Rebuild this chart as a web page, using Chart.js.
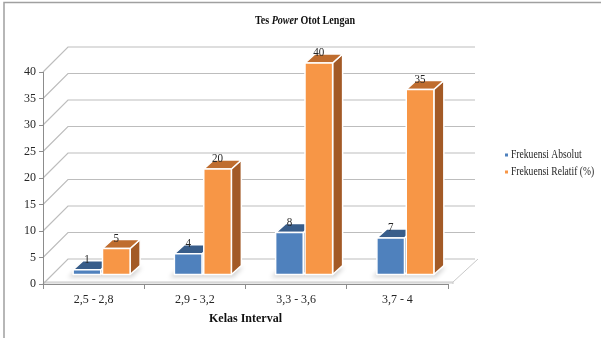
<!DOCTYPE html>
<html>
<head>
<meta charset="utf-8">
<script src="https://cdn.jsdelivr.net/npm/chart.js@4/dist/chart.umd.min.js"></script>
<style>
  html, body { margin: 0; padding: 0; background: #fff; }
  #c { display: block; }
</style>
</head>
<body>
<canvas id="c" width="601" height="338"></canvas>
<script>
// Frequency table: class intervals and the two series
const categories = ['2,5 - 2,8', '2,9 - 3,2', '3,3 - 3,6', '3,7 - 4'];
const frekuensiAbsolut = [1, 4, 8, 7];
const frekuensiRelatif = [5, 20, 40, 35];
const seriesNames = ['Frekuensi Absolut', 'Frekuensi Relatif (%)'];
const yMin = 0, yMax = 40, yStep = 5;

const SERIF = '"Liberation Serif", "Times New Roman", serif';
const TEXT = '#262626';
const AXIS = '#8c8c8c';
const GRID = '#bdbdbd';

// 3D offsets: back wall, bar plane, bar depth
const WALL = { dx: 25, dy: -25 };
const BAR = { dx: 8, dy: -9 };
const DEPTH = { dx: 10, dy: -9 };

const faces = [
  { front: '#4F81BD', top: '#385D8A', side: '#2C4D75' },
  { front: '#F79646', top: '#BF6D2F', side: '#A35A26' }
];

function poly(ctx, pts, fill, stroke) {
  ctx.beginPath();
  ctx.moveTo(pts[0][0], pts[0][1]);
  for (let i = 1; i < pts.length; i++) ctx.lineTo(pts[i][0], pts[i][1]);
  ctx.closePath();
  if (fill) { ctx.fillStyle = fill; ctx.fill(); }
  if (stroke) { ctx.strokeStyle = stroke; ctx.stroke(); }
}

function drawBox(ctx, l, r, t, b, c) {
  const dx = DEPTH.dx, dy = DEPTH.dy;
  ctx.lineWidth = 1.5;
  ctx.lineJoin = 'round';
  poly(ctx, [[r, t], [r + dx, t + dy], [r + dx, b + dy], [r, b]], c.side, '#fff');
  poly(ctx, [[l, t], [l + dx, t + dy], [r + dx, t + dy], [r, t]], c.top, '#fff');
  poly(ctx, [[l, t], [r, t], [r, b], [l, b]], c.front, '#fff');
}

// text drawn with a narrow horizontal scale
function narrowText(ctx, txt, x, y, sx) {
  ctx.save();
  ctx.translate(x, y);
  ctx.scale(sx, 1);
  ctx.fillText(txt, 0, 0);
  ctx.restore();
}

const scene3d = {
  id: 'scene3d',
  beforeDraw(chart) {
    const ctx = chart.ctx, a = chart.chartArea, ys = chart.scales.y;
    ctx.save();
    // frame
    ctx.strokeStyle = '#a0a0a0';
    ctx.lineWidth = 1.5;
    ctx.beginPath();
    ctx.moveTo(4, 338); ctx.lineTo(4, 2.5); ctx.lineTo(601, 2.5);
    ctx.stroke();

    // floor slab
    const fb = a.bottom - 2, fr = a.right + 5;
    poly(ctx, [[a.left, fb], [fr, fb], [fr + WALL.dx, fb + WALL.dy + 2], [a.left + WALL.dx, fb + WALL.dy + 2]], '#fff', null);
    ctx.lineWidth = 1;
    poly(ctx, [[a.left, a.bottom], [fr, a.bottom], [fr, fb], [a.left, fb]], '#e6e6e6', null);
    ctx.strokeStyle = '#c8c8c8';
    ctx.beginPath();
    ctx.moveTo(a.left, fb); ctx.lineTo(fr, fb);
    ctx.lineTo(fr + WALL.dx, fb + WALL.dy + 2);
    ctx.moveTo(fr, a.bottom); ctx.lineTo(fr, fb);
    ctx.stroke();

    // back wall gridlines and left wall diagonals
    ctx.strokeStyle = GRID;
    ctx.lineWidth = 1.2;
    ys.ticks.forEach(t => {
      const py = ys.getPixelForValue(t.value);
      ctx.beginPath();
      ctx.moveTo(a.left, py);
      ctx.lineTo(a.left + WALL.dx, py + WALL.dy);
      ctx.lineTo(a.right + WALL.dx + 2, py + WALL.dy);
      ctx.stroke();
    });
    ctx.restore();
  },
  beforeDatasetsDraw(chart) {
    const ctx = chart.ctx;
    const metas = chart.data.datasets.map((d, i) => chart.getDatasetMeta(i));
    ctx.save();
    // soft contact shadows on the floor
    ctx.filter = 'blur(2px)';
    ctx.fillStyle = 'rgba(0,0,0,0.16)';
    categories.forEach((c, i) => {
      const e0 = metas[0].data[i], e1 = metas[1].data[i];
      const l = e0.x - e0.width / 2 + BAR.dx - 5;
      const r = e1.x + e1.width / 2 + BAR.dx + DEPTH.dx + 2;
      const b = e0.base + BAR.dy + 3;
      poly(ctx, [[l, b], [r - DEPTH.dx, b], [r, b + DEPTH.dy - 1], [l + DEPTH.dx, b + DEPTH.dy - 1]], ctx.fillStyle, null);
    });
    ctx.filter = 'none';

    categories.forEach((c, i) => {
      metas.forEach((m, s) => {
        const el = m.data[i];
        const l = el.x - el.width / 2 + BAR.dx;
        const r = el.x + el.width / 2 + BAR.dx;
        const t = el.y + BAR.dy;
        const b = el.base + BAR.dy;
        drawBox(ctx, l, r, t, b, faces[s]);
      });
    });

    // value labels above each bar
    ctx.fillStyle = TEXT;
    ctx.font = '13px ' + SERIF;
    ctx.textAlign = 'center';
    ctx.textBaseline = 'alphabetic';
    metas.forEach((m, s) => {
      m.data.forEach((el, i) => {
        const v = chart.data.datasets[s].data[i];
        narrowText(ctx, String(v), el.x + BAR.dx, el.y + BAR.dy + DEPTH.dy + 2, 0.85);
      });
    });
    ctx.restore();
    return false;
  },
  afterDraw(chart) {
    const ctx = chart.ctx;
    ctx.save();
    // title with italic word, slightly narrow
    const sx = 0.84;
    const parts = [
      { t: 'Tes ', f: 'bold 12px ' + SERIF },
      { t: 'Power', f: 'italic bold 12px ' + SERIF },
      { t: ' Otot Lengan', f: 'bold 12px ' + SERIF }
    ];
    let w = 0;
    parts.forEach(p => { ctx.font = p.f; p.w = ctx.measureText(p.t).width * sx; w += p.w; });
    let x = 305 - w / 2;
    ctx.fillStyle = '#111';
    ctx.textBaseline = 'middle';
    ctx.textAlign = 'left';
    parts.forEach(p => { ctx.font = p.f; narrowText(ctx, p.t, x, 21, sx); x += p.w; });

    // legend
    ctx.font = '12px ' + SERIF;
    const ly = [155, 172];
    chart.data.datasets.forEach((d, i) => {
      ctx.fillStyle = faces[i].front;
      ctx.fillRect(505, ly[i] - 1.5, 3, 3);
      ctx.fillStyle = TEXT;
      narrowText(ctx, d.label, 511, ly[i], 0.8);
    });
    ctx.restore();
  }
};

new Chart(document.getElementById('c'), {
  type: 'bar',
  data: {
    labels: categories,
    datasets: [
      { label: seriesNames[0], data: frekuensiAbsolut, backgroundColor: faces[0].front },
      { label: seriesNames[1], data: frekuensiRelatif, backgroundColor: faces[1].front }
    ]
  },
  options: {
    responsive: false,
    animation: false,
    devicePixelRatio: 1,
    categoryPercentage: 0.58,
    barPercentage: 0.94,
    layout: { padding: { left: 4, right: 153, top: 72, bottom: 0 } },
    plugins: { legend: { display: false }, title: { display: false }, tooltip: { enabled: false } },
    scales: {
      x: {
        grid: { drawOnChartArea: false, drawTicks: true, tickLength: 5, color: AXIS, offset: true },
        border: { display: true, color: AXIS },
        ticks: { font: { family: SERIF, size: 12 }, color: TEXT, padding: 4, maxRotation: 0 },
        title: {
          display: true, text: 'Kelas Interval', color: '#111',
          font: { family: SERIF, size: 12, weight: 'bold' }, padding: { top: 2, bottom: 12 }
        },
        afterFit(s) { s.height = 54; }
      },
      y: {
        min: yMin, max: yMax,
        ticks: { stepSize: yStep, font: { family: SERIF, size: 12 }, color: TEXT, padding: 3 },
        grid: { drawOnChartArea: false, drawTicks: true, tickLength: 4, color: AXIS },
        border: { display: true, color: AXIS },
        afterFit(s) { s.width = 39; }
      }
    }
  },
  plugins: [scene3d]
});
</script>
</body>
</html>
